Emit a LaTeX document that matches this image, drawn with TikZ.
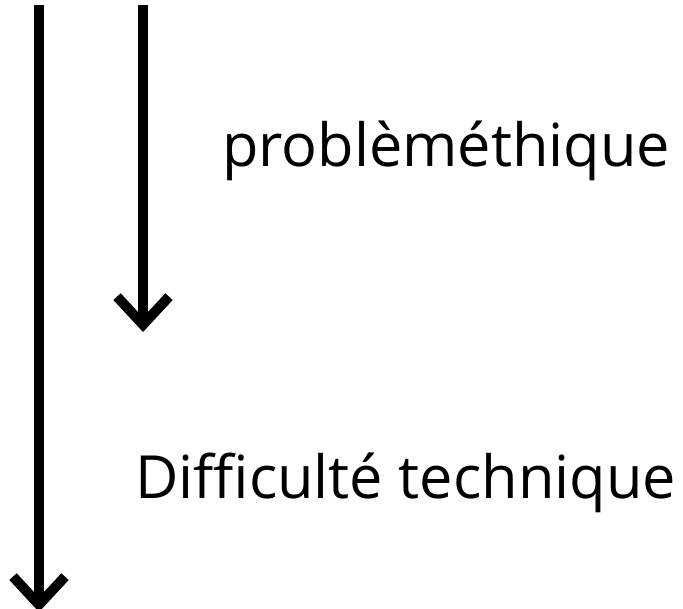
\documentclass[tikz,border=0pt]{standalone}
\usepackage{fontspec}
\setmainfont{Open Sans}
\usetikzlibrary{arrows.meta,positioning}

\begin{document}
\begin{tikzpicture}[x=1pt,y=-1pt,
	fleche/.style={line width=10pt, -{Straight Barb[length=28pt,width=52pt,line width=10pt]}}]
	\path [use as bounding box] (0,0) rectangle (683,609);
	\coordinate (L1) at (39,5);
	\coordinate (L2) at (39,612);
	\coordinate (R1) at (143,5);
	\coordinate (R2) at (143,332);
	\draw[fleche] (L1) -- (L2);
	\draw[fleche] (R1) -- (R2);
	\node[anchor=base west, inner sep=0pt, font=\fontsize{59.5}{68}\selectfont] (pb) at (222,167) {problèméthique};
	\node[anchor=base west, inner sep=0pt, font=\fontsize{59.5}{68}\selectfont] (dt) at (135,498) {Difficulté technique};
\end{tikzpicture}
\end{document}
